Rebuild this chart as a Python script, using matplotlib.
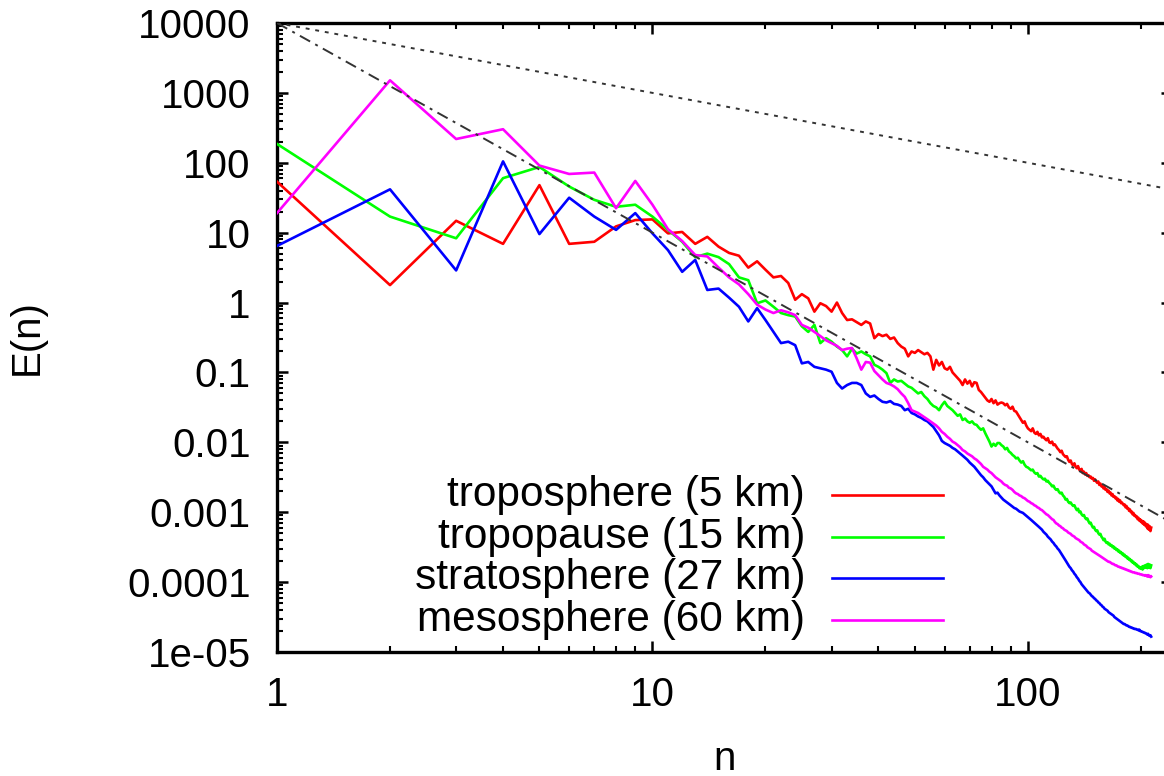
import numpy as np
import matplotlib
matplotlib.use('Agg')
import matplotlib.pyplot as plt
from matplotlib.ticker import LogLocator, NullFormatter

plt.rcParams['font.family'] = 'Liberation Sans'
plt.rcParams['font.size'] = 29

# spectral index n = 1 .. 213
n = np.arange(1, 214)

# log10 E(n) for each level
tropo_log = [
    1.73, 0.25, 1.17, 0.84, 1.68, 0.84, 0.87, 1.09, 1.18, 1.19,
    0.99, 1.01, 0.84, 0.94, 0.80, 0.71, 0.67, 0.50, 0.59, 0.47,
    0.36, 0.38, 0.28, 0.04, 0.12, 0.06, -0.13, -0.01, -0.05, -0.13,
    0.00, -0.15, -0.25, -0.24, -0.28, -0.32, -0.27, -0.30, -0.51, -0.45,
    -0.48, -0.46, -0.52, -0.50, -0.58, -0.63, -0.66, -0.77, -0.70, -0.72,
    -0.68, -0.71, -0.74, -0.72, -0.77, -0.96, -0.82, -0.90, -0.85, -0.94,
    -0.96, -0.92, -1.00, -1.04, -1.08, -1.12, -1.18, -1.10, -1.16, -1.12,
    -1.20, -1.14, -1.15, -1.25, -1.28, -1.32, -1.36, -1.40, -1.42, -1.38,
    -1.44, -1.40, -1.46, -1.44, -1.43, -1.44, -1.47, -1.45, -1.50, -1.52,
    -1.49, -1.55, -1.56, -1.60, -1.64, -1.68, -1.72, -1.70, -1.76, -1.80,
    -1.82, -1.84, -1.80, -1.86, -1.88, -1.85, -1.90, -1.88, -1.93, -1.92,
    -1.95, -1.97, -1.94, -2.00, -2.01, -1.99, -2.04, -2.03, -2.06, -2.09,
    -2.11, -2.14, -2.12, -2.17, -2.19, -2.21, -2.20, -2.25, -2.28, -2.26,
    -2.31, -2.33, -2.30, -2.35, -2.37, -2.34, -2.39, -2.41, -2.38, -2.44,
    -2.42, -2.46, -2.44, -2.48, -2.47, -2.50, -2.49, -2.52, -2.51, -2.55,
    -2.53, -2.56, -2.58, -2.56, -2.61, -2.59, -2.63, -2.62, -2.66, -2.64,
    -2.68, -2.67, -2.71, -2.69, -2.73, -2.72, -2.76, -2.74, -2.78, -2.77,
    -2.80, -2.79, -2.83, -2.81, -2.85, -2.83, -2.87, -2.86, -2.88, -2.90,
    -2.89, -2.93, -2.91, -2.95, -2.94, -2.98, -2.96, -3.00, -2.99, -3.03,
    -3.01, -3.05, -3.04, -3.07, -3.06, -3.10, -3.08, -3.12, -3.10, -3.14,
    -3.12, -3.16, -3.13, -3.18, -3.15, -3.20, -3.17, -3.23, -3.18, -3.25,
    -3.20, -3.27, -3.22,
]

tpause_log = [
    2.27, 1.23, 0.92, 1.78, 1.94, 1.66, 1.47, 1.37, 1.40, 1.23,
    1.04, 0.87, 0.65, 0.70, 0.65, 0.55, 0.36, 0.32, -0.01, 0.03,
    -0.06, -0.15, -0.18, -0.20, -0.34, -0.42, -0.32, -0.58, -0.51, -0.56,
    -0.63, -0.68, -0.77, -0.66, -0.73, -0.70, -0.74, -0.77, -0.89, -0.92,
    -0.96, -1.01, -1.15, -1.10, -1.13, -1.12, -1.16, -1.20, -1.22, -1.26,
    -1.30, -1.28, -1.34, -1.38, -1.44, -1.48, -1.50, -1.54, -1.47, -1.42,
    -1.48, -1.51, -1.54, -1.58, -1.62, -1.60, -1.68, -1.66, -1.70, -1.72,
    -1.70, -1.74, -1.75, -1.79, -1.82, -1.80, -1.87, -1.93, -1.99, -2.06,
    -2.02, -2.05, -2.01, -2.01, -2.04, -2.06, -2.10, -2.08, -2.13, -2.15,
    -2.18, -2.20, -2.23, -2.22, -2.26, -2.29, -2.27, -2.32, -2.35, -2.36,
    -2.38, -2.40, -2.39, -2.43, -2.45, -2.44, -2.49, -2.48, -2.51, -2.53,
    -2.52, -2.56, -2.55, -2.58, -2.60, -2.63, -2.62, -2.66, -2.68, -2.67,
    -2.71, -2.73, -2.72, -2.76, -2.78, -2.82, -2.81, -2.85, -2.87, -2.86,
    -2.89, -2.91, -2.90, -2.94, -2.97, -2.95, -3.00, -2.99, -3.03, -3.05,
    -3.04, -3.08, -3.10, -3.09, -3.13, -3.16, -3.15, -3.19, -3.22, -3.21,
    -3.25, -3.27, -3.26, -3.30, -3.32, -3.31, -3.35, -3.37, -3.40, -3.38,
    -3.42, -3.44, -3.43, -3.46, -3.45, -3.48, -3.47, -3.50, -3.49, -3.52,
    -3.51, -3.54, -3.53, -3.56, -3.55, -3.58, -3.57, -3.60, -3.59, -3.62,
    -3.61, -3.64, -3.63, -3.66, -3.65, -3.68, -3.67, -3.70, -3.69, -3.72,
    -3.71, -3.74, -3.73, -3.76, -3.75, -3.78, -3.77, -3.80, -3.79, -3.81,
    -3.78, -3.82, -3.77, -3.80, -3.76, -3.79, -3.75, -3.80, -3.74, -3.79,
    -3.75, -3.80, -3.76,
]

strato_log = [
    0.81, 1.62, 0.46, 2.02, 0.98, 1.50, 1.23, 1.04, 1.28, 0.99,
    0.75, 0.44, 0.61, 0.18, 0.20, 0.07, -0.06, -0.27, -0.08, -0.25,
    -0.42, -0.58, -0.56, -0.61, -0.87, -0.85, -0.92, -0.94, -0.96, -0.99,
    -1.15, -1.23, -1.18, -1.15, -1.15, -1.18, -1.30, -1.35, -1.33, -1.38,
    -1.42, -1.43, -1.41, -1.45, -1.46, -1.48, -1.54, -1.52, -1.58, -1.60,
    -1.63, -1.65, -1.68, -1.70, -1.74, -1.78, -1.84, -1.90, -1.98, -2.01,
    -2.03, -2.05, -2.08, -2.10, -2.13, -2.16, -2.19, -2.22, -2.25, -2.29,
    -2.32, -2.35, -2.39, -2.43, -2.47, -2.50, -2.54, -2.57, -2.60, -2.63,
    -2.68, -2.73, -2.72, -2.76, -2.79, -2.82, -2.84, -2.86, -2.88, -2.90,
    -2.92, -2.94, -2.95, -2.97, -2.99, -3.00, -3.01, -3.03, -3.05, -3.07,
    -3.09, -3.11, -3.13, -3.15, -3.17, -3.19, -3.21, -3.23, -3.25, -3.28,
    -3.30, -3.32, -3.35, -3.37, -3.39, -3.42, -3.44, -3.47, -3.49, -3.52,
    -3.54, -3.57, -3.60, -3.63, -3.66, -3.69, -3.72, -3.75, -3.78, -3.80,
    -3.83, -3.85, -3.88, -3.90, -3.93, -3.95, -3.98, -4.00, -4.03, -4.05,
    -4.07, -4.09, -4.11, -4.13, -4.15, -4.16, -4.18, -4.20, -4.21, -4.23,
    -4.24, -4.26, -4.27, -4.29, -4.30, -4.32, -4.33, -4.35, -4.36, -4.38,
    -4.39, -4.40, -4.41, -4.43, -4.44, -4.45, -4.46, -4.47, -4.48, -4.50,
    -4.51, -4.52, -4.53, -4.54, -4.55, -4.56, -4.57, -4.58, -4.59, -4.60,
    -4.60, -4.61, -4.62, -4.62, -4.63, -4.64, -4.64, -4.65, -4.65, -4.66,
    -4.66, -4.67, -4.67, -4.67, -4.68, -4.68, -4.69, -4.68, -4.70, -4.70,
    -4.71, -4.71, -4.72, -4.72, -4.73, -4.73, -4.74, -4.75, -4.74, -4.76,
    -4.77, -4.76, -4.78,
]

meso_log = [
    1.28, 3.18, 2.34, 2.48, 1.96, 1.84, 1.86, 1.35, 1.74, 1.40,
    1.05, 0.88, 0.68, 0.66, 0.50, 0.36, 0.26, 0.12, -0.03, -0.10,
    -0.15, -0.11, -0.14, -0.18, -0.32, -0.36, -0.42, -0.48, -0.54, -0.58,
    -0.62, -0.68, -0.66, -0.65, -0.80, -0.96, -0.85, -0.86, -0.98, -1.04,
    -1.10, -1.15, -1.17, -1.20, -1.24, -1.30, -1.35, -1.44, -1.54, -1.56,
    -1.58, -1.61, -1.64, -1.67, -1.70, -1.73, -1.76, -1.80, -1.85, -1.88,
    -1.92, -1.95, -1.99, -2.01, -2.04, -2.07, -2.11, -2.13, -2.16, -2.18,
    -2.20, -2.23, -2.25, -2.28, -2.31, -2.35, -2.37, -2.39, -2.42, -2.44,
    -2.47, -2.50, -2.52, -2.54, -2.56, -2.59, -2.61, -2.62, -2.65, -2.66,
    -2.68, -2.71, -2.73, -2.74, -2.76, -2.77, -2.79, -2.80, -2.82, -2.84,
    -2.85, -2.87, -2.88, -2.90, -2.91, -2.93, -2.94, -2.96, -2.97, -2.99,
    -3.01, -3.03, -3.04, -3.06, -3.08, -3.10, -3.11, -3.14, -3.16, -3.17,
    -3.19, -3.20, -3.22, -3.23, -3.25, -3.26, -3.27, -3.29, -3.30, -3.31,
    -3.33, -3.34, -3.35, -3.37, -3.38, -3.39, -3.40, -3.42, -3.43, -3.44,
    -3.46, -3.47, -3.48, -3.50, -3.51, -3.52, -3.53, -3.55, -3.56, -3.57,
    -3.58, -3.59, -3.60, -3.61, -3.62, -3.63, -3.64, -3.65, -3.66, -3.67,
    -3.68, -3.69, -3.70, -3.71, -3.71, -3.72, -3.73, -3.74, -3.74, -3.75,
    -3.76, -3.76, -3.77, -3.78, -3.78, -3.79, -3.79, -3.80, -3.80, -3.81,
    -3.81, -3.82, -3.82, -3.83, -3.83, -3.84, -3.84, -3.85, -3.85, -3.86,
    -3.86, -3.86, -3.87, -3.87, -3.87, -3.88, -3.88, -3.88, -3.89, -3.89,
    -3.89, -3.90, -3.90, -3.90, -3.91, -3.90, -3.91, -3.92, -3.90, -3.92,
    -3.91, -3.93, -3.92,
]

labels = ['troposphere (5 km)', 'tropopause (15 km)',
          'stratosphere (27 km)', 'mesosphere (60 km)']
colors = ['#ff0000', '#00ff00', '#0000ff', '#ff00ff']
series = [tropo_log, tpause_log, strato_log, meso_log]

# reference power laws E = amp * n^slope
ref_amp = 1e4
ref_slopes = [-1, -3]
ref_styles = [(0, (2.0, 3.0)), (0, (6, 3, 1.5, 3))]

yticks = [1e4, 1e3, 1e2, 1e1, 1, 1e-1, 1e-2, 1e-3, 1e-4, 1e-5]
ylabels = ['10000', '1000', '100', '10', '1', '0.1', '0.01', '0.001',
           '0.0001', '1e-05']
xticks = [1, 10, 100]
xlabels = ['1', '10', '100']

fig = plt.figure(figsize=(11.64, 7.76), dpi=100)
ax = fig.add_axes([277 / 1164, 1 - 652 / 776, 895 / 1164, 629 / 776])
ax.set_xscale('log')
ax.set_yscale('log')
ax.set_xlim(1, 242)
ax.set_ylim(1e-5, 1e4)

for logs, c in zip(series, colors):
    ax.plot(n, 10 ** np.array(logs), color=c, lw=1.9, zorder=3)

nn = np.array([1.0, 300.0])
for s, ls in zip(ref_slopes, ref_styles):
    ax.plot(nn, ref_amp * nn ** s, color='#333333', lw=1.4, linestyle=ls,
            zorder=4)

# key, text right-aligned left of the sample line
key_y = [0.2496, 0.1834, 0.1172, 0.0509]
for lab, c, y in zip(labels, colors, key_y):
    ax.text(0.590, y, lab, transform=ax.transAxes, ha='right',
            va='center', fontsize=30.5)
    ax.plot([0.620, 0.744], [y, y], transform=ax.transAxes, color=c, lw=1.9)

ax.set_xticks(xticks, xlabels)
ax.set_yticks(yticks, ylabels)
ax.xaxis.set_minor_locator(LogLocator(base=10, subs=np.arange(2, 10)))
ax.yaxis.set_minor_locator(LogLocator(base=10, subs=np.arange(2, 10),
                                      numticks=20))
ax.xaxis.set_minor_formatter(NullFormatter())
ax.yaxis.set_minor_formatter(NullFormatter())
ax.tick_params(which='both', direction='in', top=True, right=True,
               labelsize=29)
ax.tick_params(axis='y', which='major', length=8, width=1.8, pad=19)
ax.tick_params(axis='x', which='major', length=8, width=1.8, pad=17)
ax.tick_params(which='minor', length=4.5, width=1.5)
for sp in ax.spines.values():
    sp.set_linewidth(2.4)

ax.set_xlabel('n', fontsize=29, labelpad=19)
ax.set_ylabel('E(n)', fontsize=29)
ax.yaxis.set_label_coords(-0.258, 0.5)

fig.savefig('out.png', dpi=100)
